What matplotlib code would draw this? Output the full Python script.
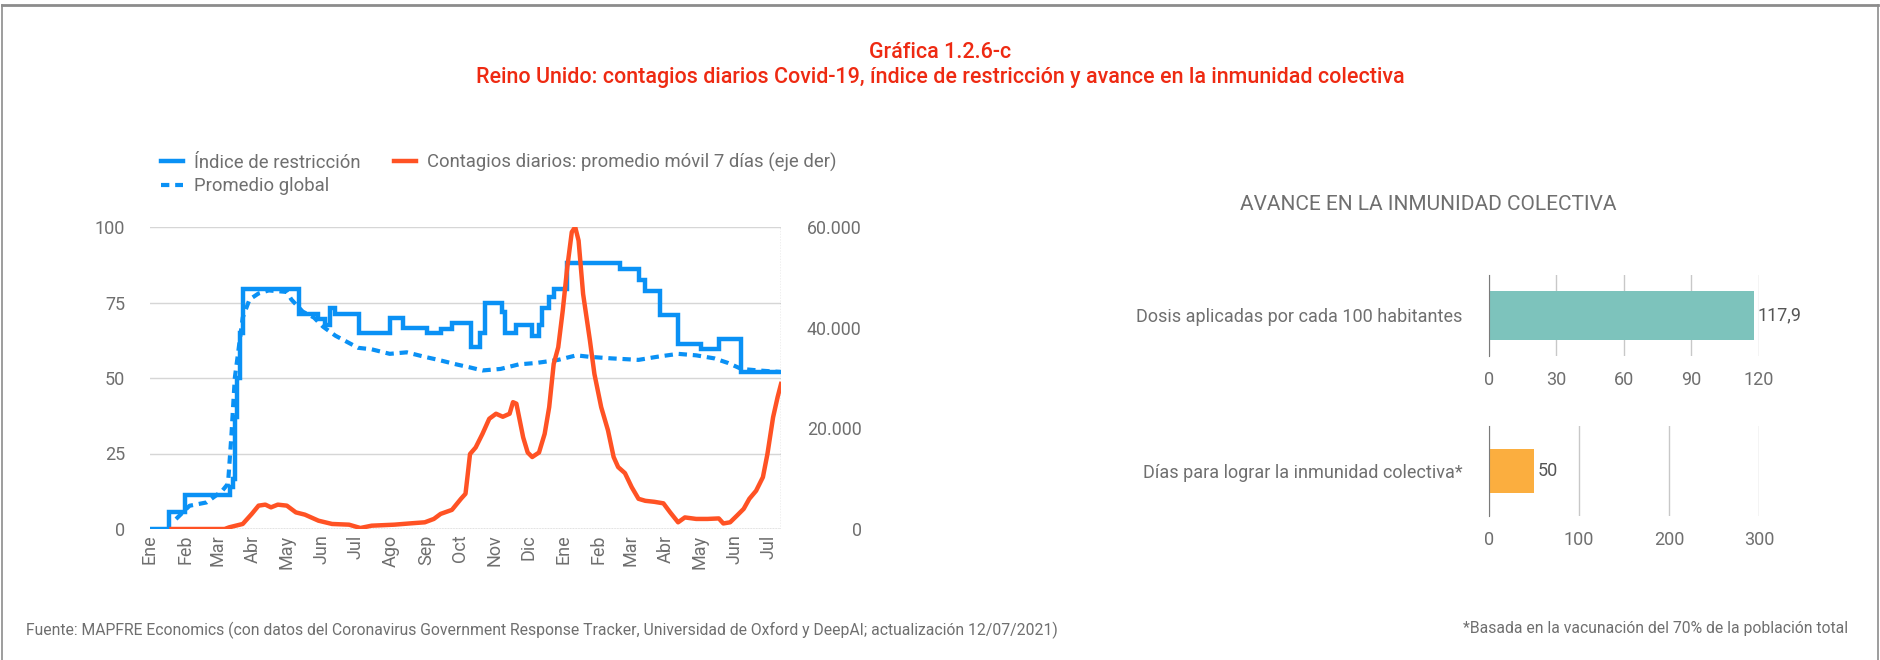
import matplotlib.pyplot as plt
import numpy as np
import pandas as pd
from matplotlib.lines import Line2D
from matplotlib.ticker import FuncFormatter

plt.rcParams["font.family"] = ["Roboto", "DejaVu Sans"]

GRAY = "#6f6f6f"
BLUE = "#0a91f5"
ORANGE = "#ff5224"
RED = "#ee2a12"

# Índice de restricción (escalones: fecha de cambio, valor)
restr_dates = ["2020-01-01", "2020-01-18", "2020-02-01", "2020-03-12", "2020-03-14",
               "2020-03-16", "2020-03-18", "2020-03-21", "2020-03-23", "2020-05-12",
               "2020-05-29", "2020-06-04", "2020-06-08", "2020-06-13", "2020-07-04",
               "2020-07-31", "2020-08-12", "2020-09-02", "2020-09-14", "2020-09-24",
               "2020-10-11", "2020-10-19", "2020-10-23", "2020-11-07", "2020-11-10",
               "2020-11-20", "2020-12-04", "2020-12-10", "2020-12-13", "2020-12-19",
               "2020-12-23", "2021-01-04", "2021-02-20", "2021-03-08", "2021-03-14",
               "2021-03-27", "2021-04-12", "2021-05-02", "2021-05-18", "2021-06-07",
               "2021-07-12"]
restr_vals = [0, 5.56, 11.11, 13.89, 16.67,
              37.0, 50.0, 65.0, 79.63, 71.3,
              69.4, 67.6, 73.15, 71.3, 64.81,
              69.9, 66.67, 64.81, 66.2, 68.06,
              60.19, 65.0, 75.0, 72.0, 64.81,
              67.6, 63.9, 67.6, 73.15, 76.85,
              79.63, 87.96, 86.11, 82.41, 78.7,
              70.83, 61.11, 59.72, 62.96, 51.85,
              51.85]

# Promedio global
glob_dates = ["2020-01-24", "2020-02-05", "2020-02-20", "2020-02-28", "2020-03-05",
              "2020-03-10", "2020-03-13", "2020-03-16", "2020-03-23", "2020-03-29",
              "2020-04-06", "2020-04-15", "2020-05-01", "2020-05-05", "2020-05-15",
              "2020-05-25", "2020-06-02", "2020-06-13", "2020-06-23", "2020-07-03",
              "2020-07-15", "2020-07-31", "2020-08-15", "2020-08-31", "2020-09-12",
              "2020-09-28", "2020-10-10", "2020-10-21", "2020-11-06", "2020-11-22",
              "2020-12-08", "2020-12-27", "2021-01-12", "2021-01-24", "2021-02-12",
              "2021-03-08", "2021-03-24", "2021-04-12", "2021-04-28", "2021-05-14",
              "2021-05-26", "2021-06-07", "2021-06-22", "2021-07-11"]
glob_vals = [3.3, 7.7, 8.8, 11.0, 12.7,
             15.0, 31.0, 50.0, 70.0, 76.0,
             78.0, 79.0, 78.5, 76.0, 72.0,
             70.0, 67.0, 64.0, 62.0, 60.0,
             59.5, 58.0, 58.5, 57.0, 56.0,
             54.5, 53.5, 52.5, 53.0, 54.5,
             55.0, 56.0, 57.5, 57.0, 56.5,
             56.0, 57.0, 58.0, 57.5, 56.5,
             55.0, 53.0, 52.5, 52.0]

# Contagios diarios: promedio móvil 7 días
cases_dates = ["2020-01-20", "2020-03-07", "2020-03-11", "2020-03-23", "2020-03-31",
               "2020-04-06", "2020-04-12", "2020-04-17", "2020-04-23", "2020-05-01",
               "2020-05-09", "2020-05-17", "2020-05-29", "2020-06-10", "2020-06-25",
               "2020-07-05", "2020-07-15", "2020-08-04", "2020-08-19", "2020-08-31",
               "2020-09-08", "2020-09-14", "2020-09-24", "2020-10-02", "2020-10-06",
               "2020-10-08", "2020-10-10", "2020-10-15", "2020-10-21", "2020-10-27",
               "2020-11-02", "2020-11-08", "2020-11-14", "2020-11-17", "2020-11-20",
               "2020-11-26", "2020-11-30", "2020-12-04", "2020-12-10", "2020-12-15",
               "2020-12-19", "2020-12-23", "2020-12-27", "2020-12-31", "2021-01-04",
               "2021-01-08", "2021-01-11", "2021-01-14", "2021-01-18", "2021-01-24",
               "2021-01-28", "2021-02-03", "2021-02-09", "2021-02-14", "2021-02-18",
               "2021-02-24", "2021-03-02", "2021-03-08", "2021-03-14", "2021-03-22",
               "2021-03-30", "2021-04-05", "2021-04-12", "2021-04-18", "2021-04-28",
               "2021-05-08", "2021-05-18", "2021-05-22", "2021-05-28", "2021-06-03",
               "2021-06-09", "2021-06-14", "2021-06-20", "2021-06-26", "2021-06-30",
               "2021-07-05", "2021-07-09", "2021-07-12"]
cases_vals = [0, 0, 330, 1000, 3000,
              4640, 4840, 4300, 4840, 4640,
              3300, 2850, 1650, 1000, 860,
              200, 660, 860, 1130, 1330,
              2000, 3000, 3800, 6000, 7000,
              10900, 14900, 16200, 18900, 21900,
              22900, 22300, 22900, 25200, 24900,
              18200, 15200, 14300, 15200, 18900,
              24200, 32800, 36100, 43400, 52000,
              59000, 60000, 57300, 46700, 37500,
              30800, 24200, 19600, 14300, 12300,
              11100, 8300, 6000, 5600, 5400,
              5100, 3300, 1330, 2300, 2000,
              2000, 2100, 1100, 1330, 2650,
              4000, 6000, 7600, 10300, 14900,
              22200, 26200, 28800]

month_labels = ["Ene", "Feb", "Mar", "Abr", "May", "Jun", "Jul", "Ago", "Sep",
                "Oct", "Nov", "Dic", "Ene", "Feb", "Mar", "Abr", "May", "Jun", "Jul"]

bar1_label = ["Dosis aplicadas por cada 100 habitantes"]
bar1_value = [117.9]
bar2_label = ["Días para lograr la inmunidad colectiva*"]
bar2_value = [50]

W, H = 1881, 660
fig = plt.figure(figsize=(W / 100, H / 100), dpi=100)


def fx(px):
    return px / W


def fy(py):
    return 1 - py / H


# marco
fig.add_artist(Line2D([fx(2), fx(2)], [0, fy(5)], color="#8c8c8c", lw=1.2))
fig.add_artist(Line2D([fx(2), fx(1878)], [fy(5), fy(5)], color="#8c8c8c", lw=2.0))
fig.add_artist(Line2D([fx(1878), fx(1878)], [0, fy(5)], color="#8c8c8c", lw=1.2))

fig.text(0.5, fy(53), "Gráfica 1.2.6-c", color=RED, fontsize=15.5, fontweight="medium",
         ha="center", va="center")
fig.text(0.5, fy(78), "Reino Unido: contagios diarios Covid-19, índice de restricción "
         "y avance en la inmunidad colectiva", color=RED, fontsize=15.5,
         fontweight="medium", ha="center", va="center")

# --- gráfico de líneas
ax = fig.add_axes([fx(150), fy(529), fx(781) - fx(150), fy(227) - fy(529)])
ax2 = ax.twinx()

rd = pd.to_datetime(restr_dates)
gd = pd.to_datetime(glob_dates)
cd = pd.to_datetime(cases_dates)

l1, = ax.plot(rd, restr_vals, drawstyle="steps-post", color=BLUE, lw=3.2,
              solid_joinstyle="miter")
l2, = ax.plot(gd, glob_vals, color=BLUE, lw=3.0, ls=(0, (2.0, 1.4)))
l3, = ax2.plot(cd, cases_vals, color=ORANGE, lw=3.2)

ax.set_ylim(0, 100)
ax2.set_ylim(0, 60000)
ax.set_xlim(pd.Timestamp("2020-01-01"), pd.Timestamp("2021-07-12"))
ax.set_yticks([0, 25, 50, 75, 100])
ax2.set_yticks([0, 20000, 40000, 60000])
ax2.yaxis.set_major_formatter(FuncFormatter(lambda v, p: f"{int(v):,}".replace(",", ".")))
ax.grid(axis="y", color="#d6d6d6", lw=1)
ax.set_axisbelow(True)

ticks = pd.date_range("2020-01-01", "2021-07-01", freq="MS")
ax.set_xticks(ticks)
ax.set_xticklabels(month_labels, rotation=90, va="top", ha="center")

for a in (ax, ax2):
    for s in ("top", "left", "right", "bottom"):
        a.spines[s].set_visible(False)
ax.axhline(0, color="#9a9a9a", lw=1, ls=(0, (1, 1)), zorder=1)
ax.axvline(ax.get_xlim()[1], color="#b0b0b0", lw=1, ls=(0, (1, 1)), zorder=1)

ax.tick_params(axis="y", length=0, pad=18, labelsize=13, labelcolor=GRAY)
ax.tick_params(axis="x", length=0, pad=4, labelsize=13, labelcolor=GRAY)
ax2.tick_params(axis="y", length=0, pad=58, labelsize=12.8, labelcolor=GRAY)
for t in ax2.get_yticklabels():
    t.set_ha("right")

fig.legend([l1, l2, l3], ["Índice de restricción", "Promedio global",
                          "Contagios diarios: promedio móvil 7 días (eje der)"],
           ncol=2, loc="upper left", bbox_to_anchor=(fx(144), fy(136)),
           frameon=False, fontsize=13.3, labelcolor=GRAY, handlelength=1.2,
           handletextpad=0.6, columnspacing=1.8, labelspacing=0.3)

# --- barras
fig.text(fx(1428), fy(205), "AVANCE EN LA INMUNIDAD COLECTIVA", color=GRAY,
         fontsize=15, ha="center", va="center")


def bar_panel(rect, label, value, xmax, xticks, color, height, txt):
    b = fig.add_axes(rect)
    b.barh([0], value, height=height, color=color, zorder=2)
    b.set_xlim(0, xmax)
    b.set_ylim(-1, 1)
    b.set_xticks(xticks)
    b.set_yticks([0])
    b.set_yticklabels(label)
    b.grid(axis="x", color="#c8c8c8", lw=1)
    b.set_axisbelow(True)
    for s in ("top", "right", "bottom"):
        b.spines[s].set_visible(False)
    b.spines["left"].set_color("#7a7a7a")
    b.spines["left"].set_linestyle((0, (1, 1)))
    b.tick_params(axis="both", length=0, labelsize=13, labelcolor=GRAY)
    b.tick_params(axis="y", pad=19)
    b.tick_params(axis="x", pad=11)
    b.text(value[0] + xmax * 0.012, 0, txt, va="center", ha="left",
           fontsize=13, color="#555555")
    return b


bar_panel([fx(1489), fy(356), fx(1759) - fx(1489), fy(275) - fy(356)],
          bar1_label, bar1_value, 120, [0, 30, 60, 90, 120], "#7dc3bc", 1.19, "117,9")
bar_panel([fx(1489), fy(516), fx(1759) - fx(1489), fy(426) - fy(516)],
          bar2_label, bar2_value, 300, [0, 100, 200, 300], "#fbae3f", 0.98, "50")

fig.text(fx(26), fy(630), "Fuente: MAPFRE Economics (con datos del Coronavirus Government "
         "Response Tracker, Universidad de Oxford y DeepAI; actualización 12/07/2021)",
         fontsize=11.3, color=GRAY, ha="left", va="center")
fig.text(fx(1848), fy(628), "*Basada en la vacunación del 70% de la población total",
         fontsize=11.3, color=GRAY, ha="right", va="center")

fig.savefig("out.png", dpi=100)
